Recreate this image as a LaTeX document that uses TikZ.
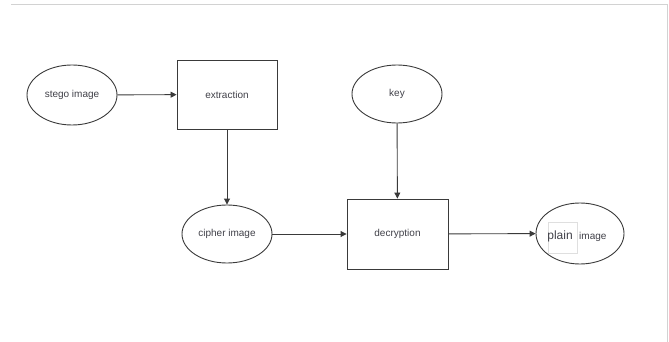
\documentclass[tikz,border=0pt]{standalone}
\usepackage{fontspec}
\setmainfont{Liberation Sans}
\usetikzlibrary{shapes.geometric,arrows.meta}
\definecolor{ink}{HTML}{3A3A3A}
\definecolor{txt}{HTML}{404048}
\tikzset{
  oval/.style={ellipse, draw=ink, line width=0.9pt, inner sep=0pt, text=txt, font=\fontsize{10}{12}\selectfont},
  procbox/.style={rectangle, draw=ink, line width=0.9pt, inner sep=0pt, text=txt, font=\fontsize{10}{12}\selectfont},
  flow/.style={draw=ink, line width=0.9pt, -{Triangle[length=6pt,width=6pt]}},
  frame/.style={draw=gray!35, line width=0.8pt}
}
\begin{document}
\begin{tikzpicture}[x=1pt,y=-1pt]
\useasboundingbox (0,0) rectangle (669,342);
\coordinate (fa) at (11,4);
\coordinate (fb) at (667,4);
\coordinate (fc) at (667,342);
\draw[frame] (fa) -- (fb) -- (fc);

\node[oval, minimum width=90pt, minimum height=60pt] (stego) at (72,95) {stego image};
\node[procbox, minimum width=100pt, minimum height=69pt] (extr) at (227,94.5) {extraction};
\node[oval, minimum width=90pt, minimum height=58pt] (key) at (397,94) {key};
\node[oval, minimum width=90pt, minimum height=58pt] (cipher) at (227,234) {cipher image};
\node[procbox, minimum width=101pt, minimum height=70pt] (decr) at (397.5,234) {decryption};
\node[oval, minimum width=88pt, minimum height=61pt] (plainimg) at (580,233.5) {};
\node[draw=gray!25, line width=0.5pt, minimum width=29pt, minimum height=31pt, inner sep=0pt] (pbox) at (562.5,237.5) {};
\node[anchor=base, inner sep=0pt, text=txt, font=\fontsize{12}{14}\selectfont] (pword) at (560,239) {plain};
\node[anchor=base west, inner sep=0pt, text=txt, font=\fontsize{10}{12}\selectfont] (iword) at (579,239) {image};

\draw[flow] (stego) -- (extr);
\draw[flow] (extr) -- (cipher);
\draw[flow] (key) -- (decr);
\draw[flow] (cipher) -- (decr);
\draw[flow] (decr) -- (plainimg);
\end{tikzpicture}
\end{document}
